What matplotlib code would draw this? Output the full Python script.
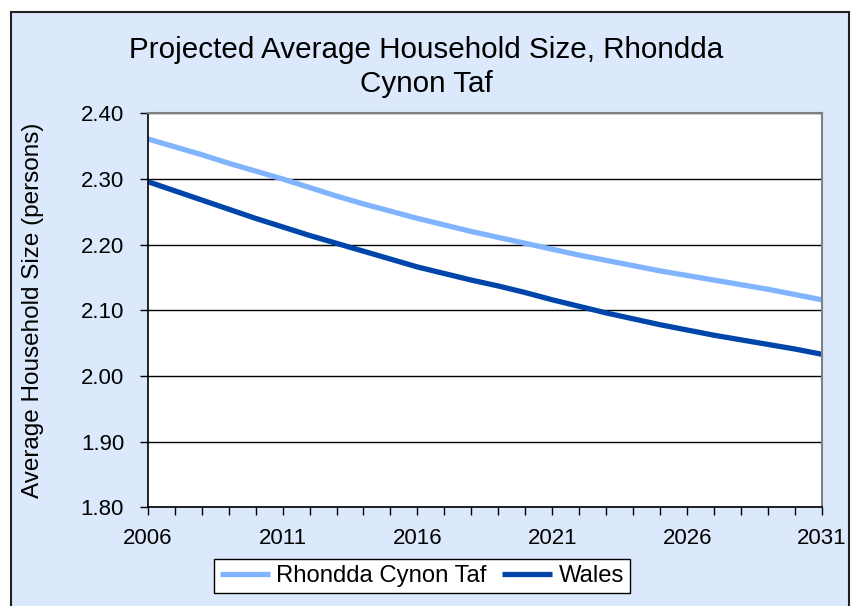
import matplotlib
matplotlib.use("Agg")
import matplotlib.pyplot as plt
from matplotlib.patches import Rectangle

# Data
years = list(range(2006, 2032))
rct = [2.361, 2.349, 2.337, 2.324, 2.312, 2.300, 2.287, 2.274, 2.262, 2.251,
       2.240, 2.230, 2.220, 2.211, 2.202, 2.193, 2.184, 2.176, 2.168, 2.160,
       2.153, 2.146, 2.139, 2.132, 2.124, 2.116]
wales = [2.296, 2.282, 2.268, 2.254, 2.240, 2.227, 2.214, 2.202, 2.190, 2.178,
         2.166, 2.156, 2.146, 2.137, 2.127, 2.116, 2.106, 2.096, 2.087, 2.078,
         2.070, 2.062, 2.055, 2.048, 2.041, 2.033]
year_labels = [2006, 2011, 2016, 2021, 2026, 2031]
y_ticks = [1.80, 1.90, 2.00, 2.10, 2.20, 2.30, 2.40]

plt.rcParams['font.family'] = ['Liberation Sans', 'DejaVu Sans']

W, H = 852, 606
fig = plt.figure(figsize=(W / 100, H / 100), dpi=100)
fig.patch.set_facecolor('white')

# chart area background with dark border (runs off the bottom edge)
bg = Rectangle((11 / W, -0.02), (849 - 11) / W, 1 - 12 / H + 0.02,
               transform=fig.transFigure, facecolor='#DCE9FC',
               edgecolor='#222222', linewidth=1.5, zorder=-10)
fig.patches.append(bg)

ax = fig.add_axes([147.7 / W, 1 - 507.3 / H, (822 - 147.7) / W, (507.3 - 113.3) / H])
ax.set_facecolor('white')

ax.plot(years, rct, color='#80B4FF', linewidth=3.8, label='Rhondda Cynon Taf',
        solid_capstyle='butt')
ax.plot(years, wales, color='#0046AA', linewidth=3.8, label='Wales',
        solid_capstyle='butt')

ax.set_xlim(2006, 2031)
ax.set_ylim(1.80, 2.40)
ax.set_xticks(year_labels)
ax.set_xticks(years, minor=True)
ax.set_yticks(y_ticks)
ax.set_yticklabels([f"{v:.2f}" for v in y_ticks])
ax.grid(axis='y', color='black', linewidth=1.0)
ax.set_axisbelow(True)

ax.tick_params(axis='both', which='both', direction='out', length=6,
               width=1, color='black', labelsize=16)
ax.tick_params(axis='y', pad=11)
ax.tick_params(axis='x', pad=9)

for side in ['left', 'bottom']:
    ax.spines[side].set_color('black')
    ax.spines[side].set_linewidth(1.2)
for side in ['top', 'right']:
    ax.spines[side].set_color('#808080')
    ax.spines[side].set_linewidth(1.5)

fig.text(33 / W, 1 - 310 / H, 'Average Household Size (persons)', rotation=90,
         ha='center', va='center', fontsize=17.5)

fig.text(426 / W, 1 - 67 / H, 'Projected Average Household Size, Rhondda\nCynon Taf',
         ha='center', va='center', fontsize=21.3, linespacing=1.28)

leg = fig.legend(loc='center', bbox_to_anchor=(422 / W, 1 - 576 / H), ncol=2,
                 fontsize=17.2, frameon=True, fancybox=False, handlelength=2.1,
                 columnspacing=0.65, handletextpad=0.25, borderpad=0.25)
leg.get_frame().set_edgecolor('black')
leg.get_frame().set_linewidth(1.0)
leg.get_frame().set_facecolor('white')
leg.get_frame().set_alpha(1)

fig.savefig('out.png', dpi=100)
